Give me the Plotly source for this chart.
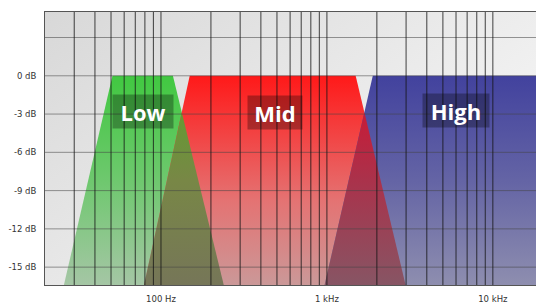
import math
import plotly.graph_objects as go

# ---------------- data ----------------
band_names = ["Low", "Mid", "High"]
band_top_left_hz = [51, 149, 1890]
band_top_right_hz = [118, 1490, 30000]
band_bottom_left_hz = [26, 79, 968]
band_bottom_right_hz = [239, 2980, 30000]
band_top_db = 0
floor_db = -16.4

label_hz = [78, 489, 5980]
label_db = [-2.8, -2.9, -2.7]

y_tick_vals = [0, -3, -6, -9, -12, -15]
y_tick_text = ["0 dB", "-3 dB", "-6 dB", "-9 dB", "-12 dB", "-15 dB"]
x_tick_vals = [100, 1000, 10000]
x_tick_text = ["100 Hz", "1 kHz", "10 kHz"]

grid_db = [3, 0, -3, -6, -9, -12, -15]
grid_hz = [30, 40, 50, 60, 70, 80, 90,
           100, 200, 300, 400, 500, 600, 700, 800, 900,
           1000, 2000, 3000, 4000, 5000, 6000, 7000, 8000, 9000, 10000]

x_range_hz = [20, 18200]
y_range_db = [-16.4, 5]

# ---------------- styles ----------------
band_scales = {
    "Low": [[0, "rgb(165,198,165)"], [0.5, "rgb(110,200,110)"], [1, "rgb(65,200,65)"]],
    "Mid": [[0, "rgb(203,152,152)"], [0.4, "rgb(228,115,115)"], [1, "rgb(255,25,25)"]],
    "High": [[0, "rgb(142,142,175)"], [0.5, "rgb(100,100,165)"], [1, "rgb(66,66,158)"]],
}
overlap_scales = [
    [[0, "rgb(118,118,88)"], [0.5, "rgb(120,135,70)"], [1, "rgb(90,165,40)"]],
    [[0, "rgb(135,85,100)"], [0.5, "rgb(170,50,75)"], [1, "rgb(215,15,45)"]],
]

fig = go.Figure()

# bands
for i, name in enumerate(band_names):
    fig.add_trace(go.Scatter(
        x=[band_bottom_left_hz[i], band_top_left_hz[i], band_top_right_hz[i], band_bottom_right_hz[i]],
        y=[floor_db, band_top_db, band_top_db, floor_db],
        fill="toself", mode="none", hoverinfo="skip", showlegend=False,
        fillgradient=dict(type="vertical", colorscale=band_scales[name],
                          start=floor_db, stop=band_top_db),
    ))

# overlaps between neighbouring bands (computed from band edges in log space)
for i in range(len(band_names) - 1):
    a_top = math.log10(band_top_right_hz[i]); a_bot = math.log10(band_bottom_right_hz[i])
    b_top = math.log10(band_top_left_hz[i + 1]); b_bot = math.log10(band_bottom_left_hz[i + 1])
    s = (b_top - a_top) / ((a_bot - a_top) - (b_bot - b_top))
    apex_x = a_top + s * (a_bot - a_top)
    apex_y = band_top_db + s * (floor_db - band_top_db)
    fig.add_trace(go.Scatter(
        x=[band_bottom_left_hz[i + 1], 10 ** apex_x, band_bottom_right_hz[i]],
        y=[floor_db, apex_y, floor_db],
        fill="toself", mode="none", hoverinfo="skip", showlegend=False,
        fillgradient=dict(type="vertical", colorscale=overlap_scales[i],
                          start=floor_db, stop=band_top_db),
    ))

# grid lines drawn above the fills
hx, hy = [], []
for d in grid_db:
    hx += [x_range_hz[0], x_range_hz[1], None]
    hy += [d, d, None]
fig.add_trace(go.Scatter(x=hx, y=hy, mode="lines", hoverinfo="skip", showlegend=False,
                         line=dict(color="rgba(70,70,70,0.55)", width=1)))
vx, vy = [], []
for f in grid_hz:
    vx += [f, f, None]
    vy += [y_range_db[0], y_range_db[1], None]
fig.add_trace(go.Scatter(x=vx, y=vy, mode="lines", hoverinfo="skip", showlegend=False,
                         line=dict(color="rgba(20,20,20,0.8)", width=1)))

# labels
box_w = [58, 52, 64]
for i, name in enumerate(band_names):
    fig.add_annotation(
        x=math.log10(label_hz[i]), y=label_db[i], xref="x", yref="y",
        text="<b>%s</b>" % name, showarrow=False,
        font=dict(family="Open Sans", size=22, color="white"),
        bgcolor="rgba(0,0,0,0.3)", width=box_w[i], height=31,
    )

bg_svg = (
    "data:image/svg+xml;utf8,"
    "<svg xmlns='http://www.w3.org/2000/svg' width='491' height='273' viewBox='0 0 491 273' preserveAspectRatio='none'>"
    "<defs><linearGradient id='g' gradientUnits='userSpaceOnUse' x1='0' y1='0' x2='306' y2='402'>"
    "<stop offset='0' stop-color='%23d8d8d8'/><stop offset='1' stop-color='%23fcfcfc'/>"
    "</linearGradient></defs><rect width='491' height='273' fill='url(%23g)'/></svg>"
)
fig.add_layout_image(dict(source=bg_svg, xref="paper", yref="paper", x=0, y=1,
                          sizex=1, sizey=1, sizing="stretch", layer="below",
                          xanchor="left", yanchor="top"))

fig.update_layout(
    width=536, height=303,
    margin=dict(l=45, r=0, t=12, b=18),
    paper_bgcolor="white", plot_bgcolor="rgba(0,0,0,0)",
    font=dict(family="DejaVu Sans", size=8.5, color="#333"),
    showlegend=False,
)
fig.update_xaxes(type="log", range=[math.log10(x_range_hz[0]), math.log10(x_range_hz[1])],
                 tickvals=x_tick_vals, ticktext=x_tick_text, showgrid=False, zeroline=False,
                 showline=True, linecolor="#555", linewidth=1, mirror=True,
                 ticks="", ticklabelstandoff=6)
fig.update_yaxes(range=y_range_db, tickvals=y_tick_vals, ticktext=y_tick_text,
                 showgrid=False, zeroline=False, showline=True, linecolor="#555",
                 linewidth=1, ticks="", ticklabelstandoff=6)

fig.write_html("out.html", config={"displayModeBar": False},
               post_script="document.body.style.margin='0';document.body.style.overflow='hidden';")
